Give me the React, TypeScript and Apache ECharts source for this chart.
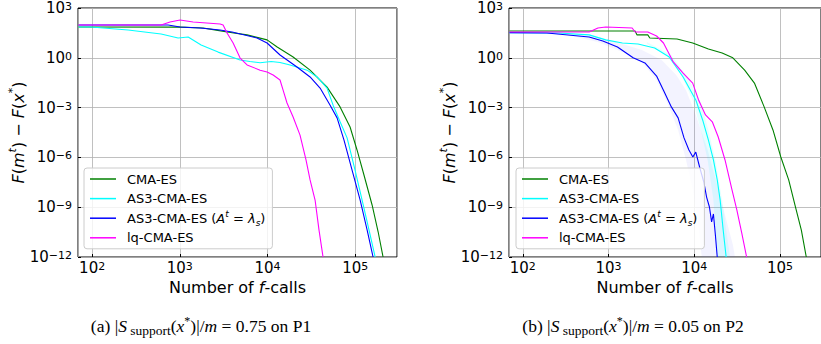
import React, { useEffect, useRef } from 'react';
import * as echarts from 'echarts';

// ---------- data (x = number of f-calls, y = F(m^t) - F(x*)) ----------
const seriesNames = ['CMA-ES', 'AS3-CMA-ES', 'AS3-CMA-ES (A^t = λs)', 'lq-CMA-ES'];
const seriesColors = ['#008000', '#00ffff', '#0000ff', '#ff00ff'];

const p1Cma: number[][] = [
  [70, 72], [1000, 70], [1844, 62], [2500, 48], [3458, 36], [5853, 24], [9890, 12], [1.29e4, 4.5],
  [1.96e4, 1.12], [3.06e4, 0.18], [4.78e4, 0.017], [6.73e4, 1.1e-3], [8.75e4, 6.8e-5],
  [1.05e5, 2.8e-6], [1.26e5, 8.7e-8], [1.56e5, 1.36e-9], [1.83e5, 3.2e-11], [2.08e5, 1e-12],
];
const p1As3: number[][] = [
  [70, 72], [97, 72], [257, 47], [612, 27], [957, 15.6], [1245, 17.9], [1750, 5.9], [2735, 2.2],
  [4872, 0.74], [6300, 0.6], [8240, 0.5], [1.1e4, 0.6], [1.39e4, 0.52], [1.81e4, 0.37], [2.83e4, 0.18],
  [3.68e4, 0.07], [4.78e4, 0.015], [5.6e4, 1.4e-3], [6.73e4, 1.4e-4], [8.09e4, 1.5e-5],
  [9.97e4, 1.7e-7], [1.2e5, 2.7e-9], [1.44e5, 4.2e-11], [1.69e5, 1e-12],
];
const p1As3Lambda: number[][] = [
  [70, 95], [736, 95], [1006, 72], [1702, 62], [2878, 47], [3945, 36], [7600, 15.6], [9890, 7.8],
  [1.39e4, 1.48], [2.17e4, 0.28], [3.06e4, 0.07], [3.98e4, 0.015], [5.18e4, 1.4e-3],
  [6.22e4, 2.4e-4], [7.46e4, 1.1e-5], [9.22e4, 1.7e-7], [1.14e5, 2.7e-9], [1.37e5, 4.2e-11],
  [1.6e5, 1e-12],
];
const p1Lq: number[][] = [
  [70, 95], [612, 95], [774, 144], [1006, 189], [1419, 144], [2878, 109], [3118, 95], [3458, 31],
  [4057, 7.8], [4872, 0.97], [5853, 0.37], [8240, 0.18], [9890, 0.14], [1.16e4, 0.092],
  [1.39e4, 0.046], [1.51e4, 0.011], [1.67e4, 1.9e-3], [1.96e4, 2.7e-4], [2.35e4, 2.2e-5],
  [2.75e4, 7e-7], [3.06e4, 4.4e-8], [3.49e4, 2.7e-9], [3.87e4, 4.2e-11], [4.3e4, 1e-12],
];

const p2Cma: number[][] = [
  [70, 41], [2037, 41], [2148, 24], [2866, 24], [3027, 15.6], [6285, 13.6], [9570, 7.8],
  [1.46e4, 3.4], [2.11e4, 1.95], [2.81e4, 1], [3.86e4, 0.18], [5.02e4, 0.03], [6.52e4, 1.1e-3],
  [8.26e4, 4.5e-5], [1.02e5, 1.06e-6], [1.26e5, 4.4e-8], [1.51e5, 1.03e-9], [1.77e5, 4.2e-11],
  [2.02e5, 1e-12],
];
const p2As3: number[][] = [
  [70, 33], [262, 31], [593, 24], [927, 12], [1449, 7.8], [2206, 6.8], [3443, 3.9], [5100, 1.12],
  [7398, 0.07], [1.04e4, 2.9e-3], [1.25e4, 1.8e-4], [1.46e4, 1.1e-5], [1.67e4, 7e-7],
  [1.85e4, 4.4e-8], [2.0e4, 2.7e-9], [2.17e4, 4.2e-11], [2.35e4, 1e-12],
];
const p2As3Lambda: number[][] = [
  [70, 33], [191, 31], [593, 17.9], [857, 10.3], [1270, 4.5], [1933, 1], [2653, 0.49], [3631, 0.08],
  [4365, 0.011], [5395, 1.1e-3], [6471, 2.4e-4], [7580, 1.5e-5], [8650, 2.8e-6], [9610, 1.06e-6],
  [1.04e4, 2.1e-6], [1.16e4, 2.3e-7], [1.29e4, 3.3e-8], [1.39e4, 4.1e-9], [1.5e4, 1.03e-9],
  [1.59e4, 1.3e-10], [1.67e4, 3.9e-10], [1.76e4, 2.1e-11], [1.85e4, 1e-12],
];
const p2Lq: number[][] = [
  [70, 36], [593, 36], [751, 62], [927, 72], [1884, 62], [2037, 36], [2866, 36], [3631, 20.6],
  [4368, 7.8], [5686, 0.56], [7398, 0.12], [9570, 0.03], [1.12e4, 2.9e-3], [1.35e4, 3.6e-4],
  [1.62e4, 1.4e-4], [1.9e4, 1.7e-5], [2.28e4, 7e-7], [2.75e4, 1.1e-8], [3.13e4, 6.8e-10],
  [3.57e4, 2.8e-11], [4.07e4, 1e-12],
];

// spread bands (outline points: one side, then the other)
const p2BlueBandLow: number[][] = [
  [262, 31], [751, 9], [1449, 2.2], [2449, 0.56], [3631, 0.046], [4977, 1.4e-3], [6471, 4.5e-5],
  [8002, 7e-7], [9614, 1.1e-8], [1.1e4, 1.7e-10], [1.22e4, 1e-12],
];
const p2BlueBandHigh: number[][] = [
  [262, 36], [751, 17.9], [1449, 6.8], [2449, 2.95], [4150, 0.74], [6150, 0.092], [8002, 0.011],
  [1.04e4, 3.6e-4], [1.43e4, 2.8e-6], [1.85e4, 2.2e-8], [2.28e4, 3.4e-10], [2.82e4, 5.2e-12],
  [2.97e4, 1e-12],
];
const p2CyanBandLow: number[][] = [
  [2794, 6.8], [4730, 1.48], [7018, 0.092], [9570, 2.9e-3], [1.19e4, 4.5e-5], [1.43e4, 7e-7],
  [1.67e4, 2.7e-9], [1.85e4, 1e-12],
];
const p2CyanBandHigh: number[][] = [
  [2794, 9], [5395, 1.48], [8430, 0.061], [1.19e4, 2.2e-3], [1.46e4, 4.5e-5], [1.76e4, 7e-7],
  [2.11e4, 2.7e-9], [2.6e4, 1e-12],
];

const xMin = 69;
const xMax = 3.0e5;
const yMin = 1e-12;
const yMax = 1e3;
const yExpStep = 3;

// ---------- styles ----------
const FONT = 'DejaVu Sans';
const SERIF = 'Liberation Serif';

const tickRich = {
  b: { fontFamily: FONT, fontSize: 15, color: '#000', lineHeight: 14 },
  s: { fontFamily: FONT, fontSize: 11, color: '#000', lineHeight: 5, verticalAlign: 'top' as const },
};
const tickFormatter = (v: number) => {
  const e = Math.round(Math.log10(v));
  const es = e < 0 ? '\u2212' + -e : String(e);
  return `{b|10}{s|${es}}`;
};

const makeXAxis = (gridIndex: number) => ({
  type: 'log' as const,
  logBase: 10,
  gridIndex,
  min: xMin,
  max: xMax,
  axisLine: { show: false },
  axisTick: { show: true, inside: true, length: 3, lineStyle: { color: '#000', width: 1 } },
  axisLabel: {
    formatter: tickFormatter,
    rich: tickRich,
    margin: 4,
    showMinLabel: false,
    showMaxLabel: false,
  },
  splitLine: { show: true, lineStyle: { color: '#b0b0b0', width: 0.8 } },
  name: 'Number of {i|f}-calls',
  nameLocation: 'middle' as const,
  nameGap: 22.5,
  nameMoveOverlap: false,
  nameTextStyle: {
    fontFamily: FONT,
    fontSize: 16,
    color: '#000',
    lineHeight: 15,
    rich: {
      i: { fontFamily: FONT, fontSize: 16, fontStyle: 'italic' as const, color: '#000', lineHeight: 15 },
    },
  },
});

const makeYAxis = (gridIndex: number) => ({
  type: 'log' as const,
  logBase: 10,
  gridIndex,
  min: yMin,
  max: yMax,
  interval: yExpStep,
  axisLine: { show: false },
  axisTick: { show: true, inside: true, length: 3, lineStyle: { color: '#000', width: 1 } },
  axisLabel: { formatter: tickFormatter, rich: tickRich, margin: 6 },
  splitLine: { show: true, lineStyle: { color: '#b0b0b0', width: 0.8 } },
  name: '{i|F}({i|m}{s|t}) \u2212 {i|F}({i|x}{s|*})',
  nameLocation: 'middle' as const,
  nameRotate: 90,
  nameGap: 49,
  nameMoveOverlap: false,
  nameTextStyle: {
    fontFamily: FONT,
    fontSize: 16,
    color: '#000',
    lineHeight: 22,
    rich: {
      i: { fontFamily: FONT, fontSize: 16, fontStyle: 'italic' as const, color: '#000', lineHeight: 22 },
      s: { fontFamily: FONT, fontSize: 11, fontStyle: 'italic' as const, color: '#000', lineHeight: 11, verticalAlign: 'top' as const },
    },
  },
});

const legendFormatter = (name: string) =>
  name === seriesNames[2]
    ? '{n|AS3-CMA-ES (}{i|A}{sup|t}{n| = }{i|λ}{sub|s}{n|)}'
    : `{n|${name}}`;

const legendRich = {
  n: { fontFamily: FONT, fontSize: 13, color: '#000', lineHeight: 18 },
  i: { fontFamily: FONT, fontSize: 13, fontStyle: 'italic' as const, color: '#000', lineHeight: 18 },
  sup: { fontFamily: FONT, fontSize: 9, fontStyle: 'italic' as const, color: '#000', lineHeight: 9, verticalAlign: 'top' as const },
  sub: { fontFamily: FONT, fontSize: 9, fontStyle: 'italic' as const, color: '#000', lineHeight: 11, verticalAlign: 'bottom' as const },
};

const makeLegend = (left: number) => ({
  left,
  top: 168,
  orient: 'vertical' as const,
  data: seriesNames.map((name) => ({ name, icon: 'rect' })),
  selectedMode: false,
  itemWidth: 26,
  itemHeight: 1.5,
  itemGap: 1.6,
  padding: [2, 7, 2, 6],
  backgroundColor: 'rgba(255,255,255,0.8)',
  borderColor: '#cccccc',
  borderWidth: 1,
  borderRadius: 3,
  formatter: legendFormatter,
  textStyle: { fontFamily: FONT, fontSize: 13, color: '#000', lineHeight: 18, padding: [0, 0, 0, 6], rich: legendRich },
});

const makeLine = (name: string, color: string, data: number[][], axis: number) => ({
  type: 'line' as const,
  name,
  data,
  xAxisIndex: axis,
  yAxisIndex: axis,
  symbol: 'none',
  showSymbol: false,
  clip: true,
  lineStyle: { color, width: 1.1 },
  itemStyle: { color },
  z: 3,
});

const makeBand = (low: number[][], high: number[][], fill: string, axis: number) => ({
  type: 'custom' as const,
  xAxisIndex: axis,
  yAxisIndex: axis,
  clip: true,
  silent: true,
  z: 2,
  data: [low[0]],
  renderItem: (params: any, api: any) => {
    if (params.dataIndex !== 0) return null;
    const pts = [...low, ...high.slice().reverse()].map((p) => api.coord(p));
    return { type: 'polygon', shape: { points: pts }, style: { fill } };
  },
});

const captionRich = {
  i: { fontFamily: SERIF, fontSize: 17.5, fontStyle: 'italic' as const, color: '#000', lineHeight: 22 },
  sub: { fontFamily: SERIF, fontSize: 13.5, color: '#000', lineHeight: 12, verticalAlign: 'bottom' as const },
  sup: { fontFamily: SERIF, fontSize: 12, color: '#000', lineHeight: 12, verticalAlign: 'top' as const },
  n: { fontFamily: SERIF, fontSize: 17.5, color: '#000', lineHeight: 22 },
};
const captionA = '{n|(a) |}{i|S}{sub| support}{n|(}{i|x}{sup|*}{n|)|/}{i|m}{n| = 0.75 on P1}';
const captionB = '{n|(b) |}{i|S}{sub| support}{n|(}{i|x}{sup|*}{n|)|/}{i|m}{n| = 0.05 on P2}';

export default function App() {
  const ref = useRef<HTMLDivElement>(null);
  useEffect(() => {
    if (!ref.current) return;
    const chart = echarts.init(ref.current, undefined, { renderer: 'svg' });
    chart.setOption({
      animation: false,
      backgroundColor: '#ffffff',
      grid: [
        { left: 78, top: 8, width: 319, height: 249, show: true, borderColor: '#000', borderWidth: 1, backgroundColor: 'transparent' },
        { left: 509, top: 8, width: 319, height: 249, show: true, borderColor: '#000', borderWidth: 1, backgroundColor: 'transparent' },
      ],
      xAxis: [makeXAxis(0), makeXAxis(1)],
      yAxis: [makeYAxis(0), makeYAxis(1)],
      legend: [makeLegend(84), makeLegend(516)],
      series: [
        makeBand(p2BlueBandLow, p2BlueBandHigh, 'rgba(80,80,255,0.07)', 1),
        makeBand(p2CyanBandLow, p2CyanBandHigh, 'rgba(0,255,255,0.10)', 1),
        makeLine(seriesNames[0], seriesColors[0], p1Cma, 0),
        makeLine(seriesNames[1], seriesColors[1], p1As3, 0),
        makeLine(seriesNames[2], seriesColors[2], p1As3Lambda, 0),
        makeLine(seriesNames[3], seriesColors[3], p1Lq, 0),
        makeLine(seriesNames[0], seriesColors[0], p2Cma, 1),
        makeLine(seriesNames[1], seriesColors[1], p2As3, 1),
        makeLine(seriesNames[2], seriesColors[2], p2As3Lambda, 1),
        makeLine(seriesNames[3], seriesColors[3], p2Lq, 1),
      ],
      graphic: [
        {
          type: 'text',
          x: 201,
          y: 326,
          style: { text: captionA, rich: captionRich, align: 'center', verticalAlign: 'middle', fontFamily: SERIF, fontSize: 17.5, fill: '#000' },
        },
        {
          type: 'text',
          x: 633,
          y: 326,
          style: { text: captionB, rich: captionRich, align: 'center', verticalAlign: 'middle', fontFamily: SERIF, fontSize: 17.5, fill: '#000' },
        },
      ],
    });
    return () => chart.dispose();
  }, []);
  return (
    <div
      ref={ref}
      style={{ position: 'absolute', left: 0, top: 0, width: 821, height: 344, background: '#fff' }}
    />
  );
}
